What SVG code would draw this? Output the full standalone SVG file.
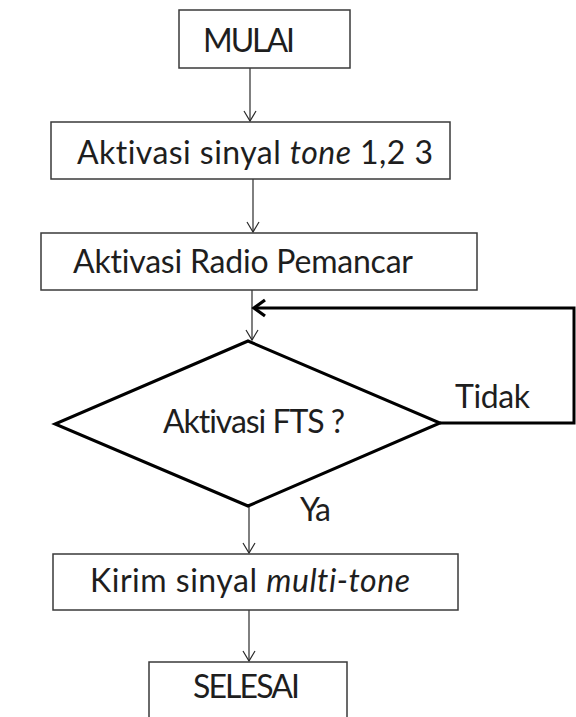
<svg xmlns="http://www.w3.org/2000/svg" width="576" height="717" viewBox="0 0 576 717">
  <style>
    .box { fill: #ffffff; stroke: #3a3a3a; stroke-width: 1.5; }
    .dec { fill: #ffffff; stroke: #000000; stroke-width: 3; stroke-linejoin: miter; }
    .lbl { font-family: Lato, "Open Sans", "Liberation Sans", sans-serif; font-size: 32px; fill: #1e1e1e; font-variant-ligatures: none; }
    .flow { fill: none; stroke: #2a2a2a; stroke-width: 1.2; }
    .loop { fill: none; stroke: #000000; stroke-width: 3; }
  </style>
  <defs>
    <marker id="thin" markerUnits="userSpaceOnUse" markerWidth="14" markerHeight="14" viewBox="-12 -7 14 14" refX="0" refY="0" orient="auto">
      <path d="M-10,-6 L0,0 L-10,6" fill="none" stroke="#2a2a2a" stroke-width="1.2"/>
    </marker>
    <marker id="bold" markerUnits="userSpaceOnUse" markerWidth="18" markerHeight="20" viewBox="-14 -10 18 20" refX="0" refY="0" orient="auto">
      <path d="M-11,-8 L0,0 L-11,8" fill="none" stroke="#000000" stroke-width="3.2"/>
    </marker>
  </defs>

  <g id="connectors">
    <line class="flow" x1="250" y1="68" x2="250" y2="121" marker-end="url(#thin)"/>
    <line class="flow" x1="253" y1="179" x2="253" y2="232" marker-end="url(#thin)"/>
    <line class="flow" x1="252" y1="290" x2="252" y2="340" marker-end="url(#thin)"/>
    <line class="flow" x1="249" y1="506" x2="249" y2="553" marker-end="url(#thin)"/>
    <line class="flow" x1="249" y1="610" x2="249" y2="661" marker-end="url(#thin)"/>
    <polyline class="loop" points="440,423 574,423 574,308 254,308" marker-end="url(#bold)"/>
    <text class="lbl" x="455" y="408" textLength="75">Tidak</text>
    <text class="lbl" x="300" y="521" textLength="31">Ya</text>
  </g>

  <g id="start">
    <rect class="box" x="179" y="10" width="171" height="58"/>
    <text class="lbl" x="203" y="52" textLength="92">MULAI</text>
  </g>

  <g id="tone">
    <rect class="box" x="51" y="122" width="399" height="57"/>
    <text class="lbl" x="77" y="164" textLength="356">Aktivasi sinyal <tspan font-style="italic">tone</tspan> 1,2 3</text>
  </g>

  <g id="radio">
    <rect class="box" x="41" y="233" width="436" height="57"/>
    <text class="lbl" x="73" y="273" textLength="340">Aktivasi Radio Pemancar</text>
  </g>

  <g id="fts">
    <polygon class="dec" points="248,341 440,423 248,506 55,424"/>
    <text class="lbl" x="163" y="433" textLength="182">Aktivasi FTS ?</text>
  </g>

  <g id="send">
    <rect class="box" x="53" y="554" width="405" height="56"/>
    <text class="lbl" x="90" y="592" textLength="320">Kirim sinyal <tspan font-style="italic">multi-tone</tspan></text>
  </g>

  <g id="end">
    <rect class="box" x="149" y="662" width="198" height="70"/>
    <text class="lbl" x="193" y="698" textLength="107">SELESAI</text>
  </g>
</svg>
